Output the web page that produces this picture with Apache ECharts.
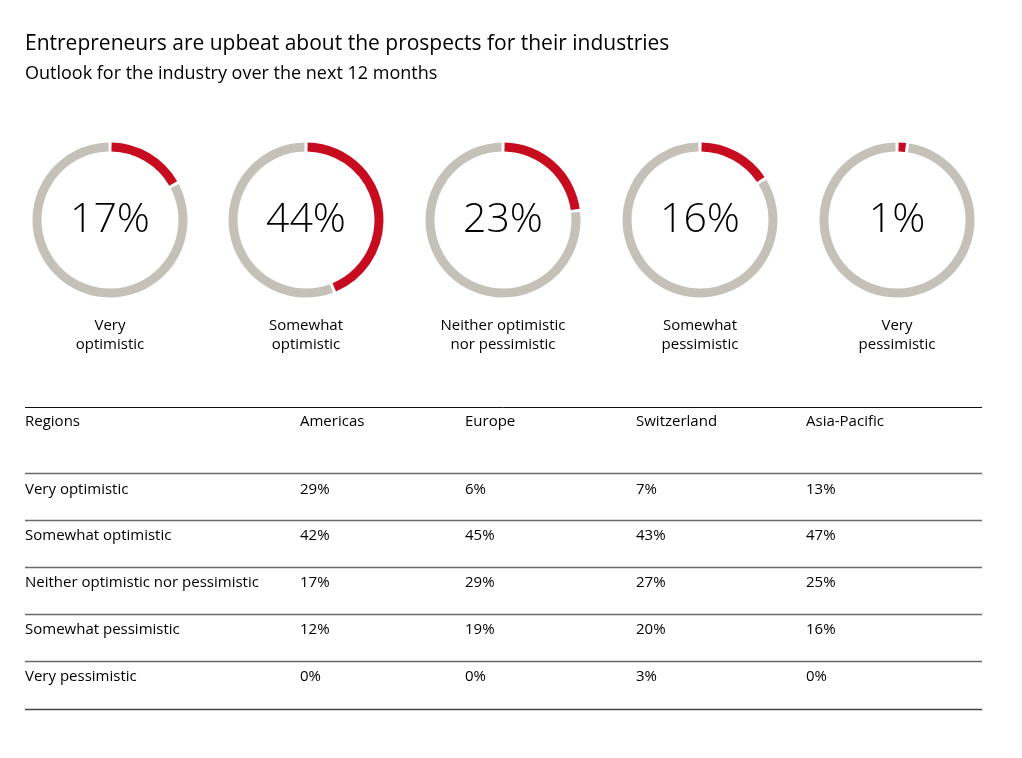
<!DOCTYPE html>
<html>
<head>
<meta charset="utf-8">
<script src="https://cdn.jsdelivr.net/npm/echarts@6/dist/echarts.min.js"></script>
<style>
html,body{margin:0;padding:0;background:#fff;}
#chart{width:1022px;height:758px;}
</style>
</head>
<body>
<div id="chart"></div>
<script>
var titleText = 'Entrepreneurs are upbeat about the prospects for their industries';
var subtitleText = 'Outlook for the industry over the next 12 months';
var outlookLabels = ['Very\noptimistic', 'Somewhat\noptimistic', 'Neither optimistic\nnor pessimistic', 'Somewhat\npessimistic', 'Very\npessimistic'];
var outlookValues = [17, 44, 23, 16, 1];

var tableHeader = ['Regions', 'Americas', 'Europe', 'Switzerland', 'Asia-Pacific'];
var rowLabels = ['Very optimistic', 'Somewhat optimistic', 'Neither optimistic nor pessimistic', 'Somewhat pessimistic', 'Very pessimistic'];
var americas = ['29%', '42%', '17%', '12%', '0%'];
var europe = ['6%', '45%', '29%', '19%', '0%'];
var switzerland = ['7%', '43%', '27%', '20%', '3%'];
var asiaPacific = ['13%', '47%', '25%', '16%', '0%'];

var FONT = '"Open Sans", "Noto Sans", sans-serif';
var RED = '#c60c1e';
var GRAY = '#c5c1b9';

var chart = echarts.init(document.getElementById('chart'), null, {renderer: 'canvas'});

var donutCx = [110, 306, 503, 700, 897];
var donutCy = 220;

var series = outlookValues.map(function (v, i) {
  return {
    type: 'pie',
    center: [donutCx[i], donutCy],
    radius: [68.5, 77.5],
    startAngle: 90,
    clockwise: true,
    padAngle: 2.4,
    minAngle: 5.5,
    silent: true,
    avoidLabelOverlap: false,
    labelLine: {show: false},
    label: {show: false},
    data: [
      {value: v, itemStyle: {color: RED},
       label: {show: true, position: 'center', formatter: '{c}%', fontSize: 41, color: '#000', fontFamily: FONT, fontWeight: 300}},
      {value: 100 - v, itemStyle: {color: GRAY}, label: {show: false}}
    ]
  };
});

var graphics = outlookLabels.map(function (t, i) {
  return {type: 'text', x: donutCx[i], y: 316,
    style: {text: t, fill: '#000', font: '15px ' + FONT, align: 'center', lineHeight: 19}};
});

// table
var tableLeft = 25, tableRight = 982;
var colX = [25, 300, 465, 636, 806];
var lineY = [407, 473, 520, 567, 614, 661, 709];
var headerTextY = 422;
var rowTextY = [490, 536, 583, 630, 677];
var columns = [rowLabels, americas, europe, switzerland, asiaPacific];

lineY.forEach(function (y, i) {
  var dark = (i === 0);
  var last = (i === lineY.length - 1);
  graphics.push({type: 'line', shape: {x1: tableLeft, y1: y + 0.5, x2: tableRight, y2: y + 0.5},
    style: {stroke: dark ? '#111' : (last ? '#444' : '#6a6a6a'), lineWidth: dark ? 1 : 1.5}});
});
tableHeader.forEach(function (h, c) {
  graphics.push({type: 'text', x: colX[c], y: headerTextY,
    style: {text: h, fill: '#000', font: '15px ' + FONT, verticalAlign: 'middle'}});
});
columns.forEach(function (col, c) {
  col.forEach(function (val, r) {
    graphics.push({type: 'text', x: colX[c], y: rowTextY[r],
      style: {text: val, fill: '#000', font: '15px ' + FONT, verticalAlign: 'middle'}});
  });
});

chart.setOption({
  backgroundColor: '#fff',
  animation: false,
  title: [
    {text: titleText, left: 20, top: 29, textStyle: {fontFamily: FONT, fontSize: 21, fontWeight: 'normal', color: '#000'}},
    {text: subtitleText, left: 20, top: 60, textStyle: {fontFamily: FONT, fontSize: 18, fontWeight: 'normal', color: '#000'}}
  ],
  series: series,
  graphic: graphics
});
</script>
</body>
</html>
